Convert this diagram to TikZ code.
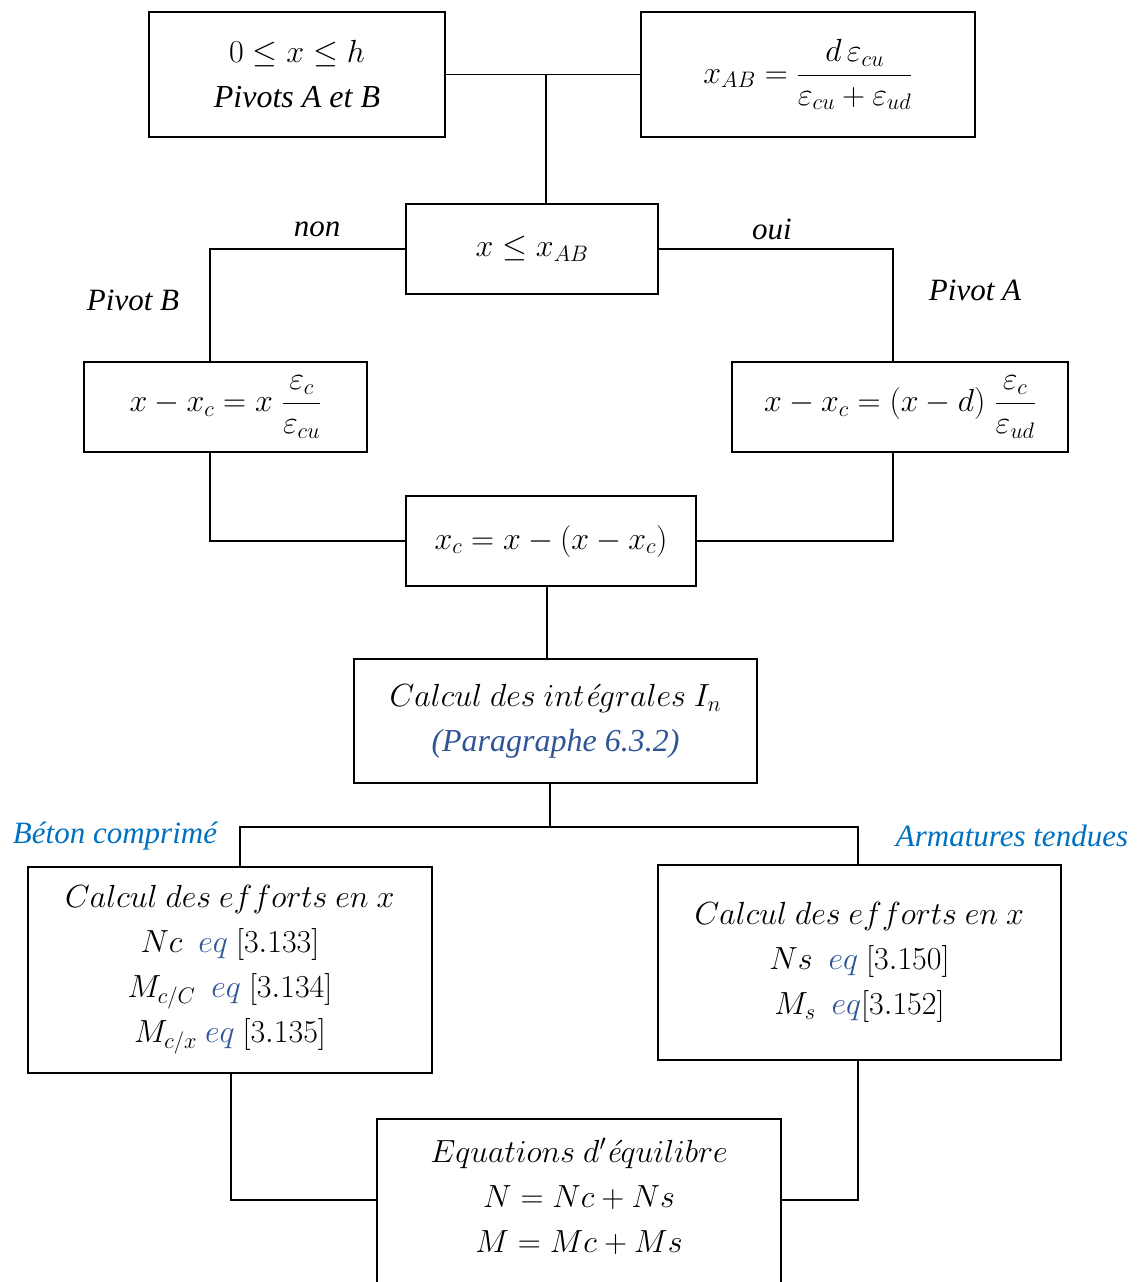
\RequirePackage{fix-cm}
\documentclass[tikz,border=0pt]{standalone}
\usepackage{amsmath}
\usepackage{fontspec}
\setmainfont{Liberation Serif}
\newfontfamily\lmfont{Latin Modern Roman}
\usetikzlibrary{calc}
\definecolor{blueA}{RGB}{0,112,192}
\definecolor{blueB}{RGB}{47,85,151}
\newcommand{\eacc}{\text{\lmfont\itshape é}}
\tikzset{
  box/.style={draw, line width=1.3pt, inner sep=0pt, outer sep=0pt, align=center,
    font=\fontsize{32}{45}\selectfont},
  conn/.style={line width=1.2pt},
  lbl/.style={inner sep=0pt, font=\fontsize{31}{36}\selectfont\itshape},
}
\begin{document}
\begin{tikzpicture}[x=1pt,y=-1pt]
\useasboundingbox (0,0) rectangle (1137,1282);
\clip (0,0) rectangle (1137,1282);
% boxes
\node[box, minimum width=296pt, minimum height=125pt] (n1) at (297,74.5)
  {$0\leq x\leq h$\\ \textit{Pivots A et B}};
\node[box, minimum width=334pt, minimum height=125pt] (n2) at (808,74.5)
  {$x_{AB}=\dfrac{d\,\varepsilon_{cu}}{\varepsilon_{cu}+\varepsilon_{ud}}$};
\node[box, minimum width=252pt, minimum height=90pt] (n3) at (532,249)
  {$x\leq x_{AB}$};
\node[box, minimum width=283pt, minimum height=90pt] (n4) at (225.5,407)
  {$x-x_c=x\;\dfrac{\varepsilon_c}{\varepsilon_{cu}}$};
\node[box, minimum width=336pt, minimum height=90pt] (n5) at (900,407)
  {$x-x_c=(x-d)\;\dfrac{\varepsilon_c}{\varepsilon_{ud}}$};
\node[box, minimum width=290pt, minimum height=90pt] (n6) at (551,541)
  {$x_c=x-(x-x_c)$};
\node[box, minimum width=403pt, minimum height=124pt] (n7) at (555.5,721)
  {$Calcul\ des\ int\eacc grales\ I_n$\\ \textcolor{blueB}{\textit{(Paragraphe 6.3.2)}}};
\node[box, minimum width=404pt, minimum height=206pt] (n8) at (230,970)
  {$Calcul\ des\ efforts\ en\ x$\\
   $Nc\ \ \textcolor{blueB}{eq}\ [3.133]$\\
   $M_{c/C}\ \ \textcolor{blueB}{eq}\ [3.134]$\\
   $M_{c/x}\ \textcolor{blueB}{eq}\ [3.135]$};
\node[box, minimum width=403pt, minimum height=195pt] (n9) at (859.5,962.5)
  {$Calcul\ des\ efforts\ en\ x$\\
   $Ns\ \ \textcolor{blueB}{eq}\ [3.150]$\\
   $M_s\ \ \textcolor{blueB}{eq}[3.152]$};
\node[box, minimum width=404pt, minimum height=197pt] (n10) at (579,1217.5)
  {$Equations\ d'\eacc quilibre$\\
   $N=Nc+Ns$\\
   $M=Mc+Ms$\\ \mbox{}};
% labels
\node[lbl] (lnon) at (317,229) {non};
\node[lbl] (loui) at (772,229) {oui};
\node[lbl] (lpb) at (133,300) {Pivot B};
\node[lbl] (lpa) at (975,290) {Pivot A};
\node[lbl, text=blueA] (lbc) at (115,836) {Béton comprimé};
\node[lbl, text=blueA] (lat) at (1012,836) {Armatures tendues};
% helper coordinates
\coordinate (j1) at (546,0);
\coordinate (cL) at (210,0);
\coordinate (cR) at (893,0);
\coordinate (cM) at (547,0);
\coordinate (j2) at (550,827);
\coordinate (cBL) at (240,0);
\coordinate (cBR) at (858,0);
\coordinate (cB1) at (231,0);
\coordinate (yb) at (0,1200);
% connectors
\draw[conn] (n1.east) -- (n2.west);
\draw[conn] (j1 |- n1.east) -- (j1 |- n3.north);
\draw[conn] (n3.west) -| (cL |- n4.north);
\draw[conn] (n3.east) -| (cR |- n5.north);
\draw[conn] (cL |- n4.south) |- (n6.west);
\draw[conn] (cR |- n5.south) |- (n6.east);
\draw[conn] (cM |- n6.south) -- (cM |- n7.north);
\draw[conn] (j2 |- n7.south) -- (j2);
\draw[conn] (cBL |- n8.north) |- (j2) -| (cBR |- n9.north);
\draw[conn] (cB1 |- n8.south) |- (n10.west |- yb);
\draw[conn] (cBR |- n9.south) |- (n10.east |- yb);
\end{tikzpicture}
\end{document}
